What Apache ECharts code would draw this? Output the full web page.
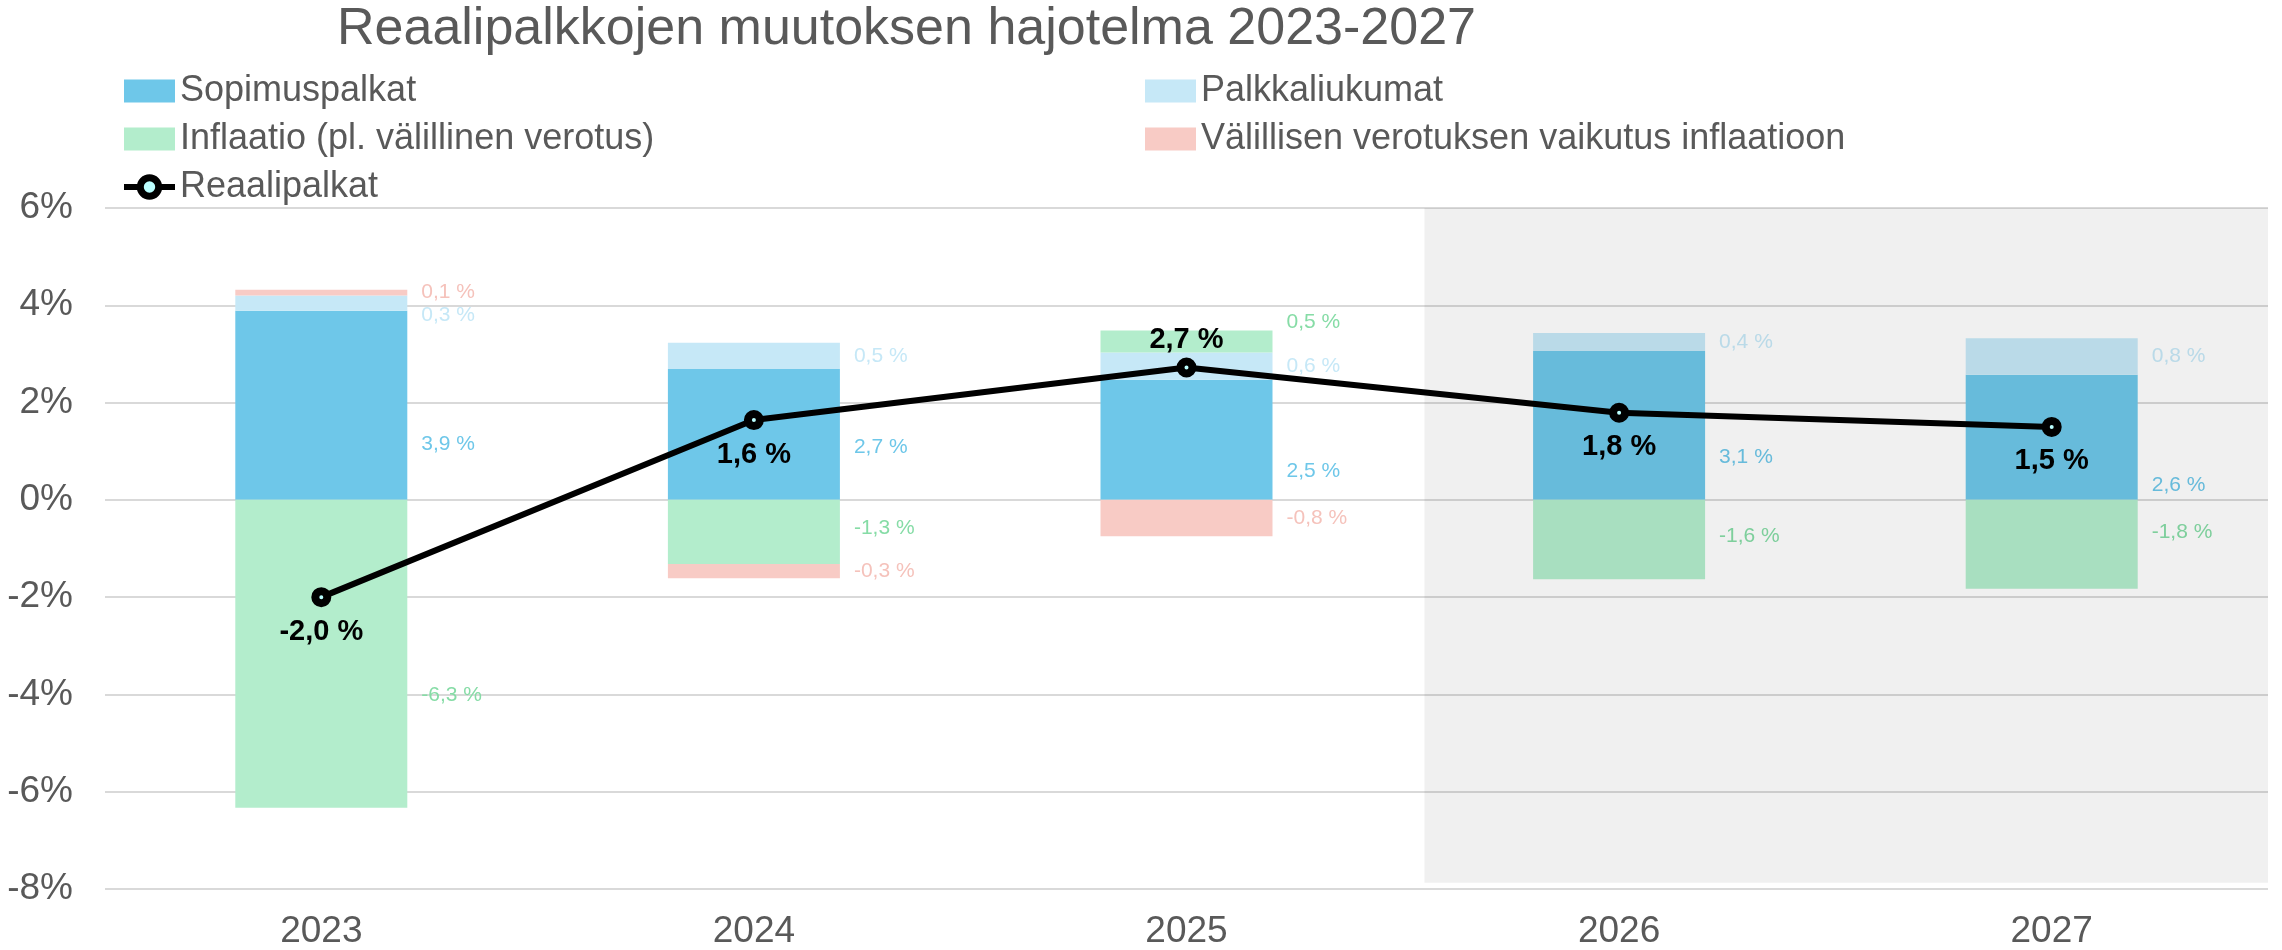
<!DOCTYPE html>
<html>
<head>
<meta charset="utf-8">
<title>Reaalipalkkojen muutoksen hajotelma 2023-2027</title>
<script src="https://cdn.jsdelivr.net/npm/echarts@6/dist/echarts.min.js"></script>
<style>
	html, body {margin: 0; padding: 0; background: #fff;}
	#report {width: 2282px; height: 950px;}
</style>
</head>
<body>
<div id="report"></div>
<script>
// data
var years = ['2023', '2024', '2025', '2026', '2027'];
var sopimuspalkat = [3.89, 2.69, 2.47, 3.06, 2.57];
var palkkaliukumat = [0.31, 0.54, 0.56, 0.37, 0.75];
var inflaatio = [-6.33, -1.32, 0.45, -1.63, -1.83];
var valillinenVerotus = [0.12, -0.29, -0.75, null, null];
var reaalipalkat = [-2.0, 1.64, 2.72, 1.79, 1.50];
var yTicks = [-8, -6, -4, -2, 0, 2, 4, 6];

// label nudges (px) so the numbers sit where the original had them
var sopimusNudge = [39, 13, 31, 32, 48];
var liukumaNudge = [12, 0, 0, 0, 0];
var inflaatioNudge = [41, -4, -19, -3, -12];
var realLabelPos = ['bottom', 'bottom', 'top', 'bottom', 'bottom'];

var FONT = '"Liberation Sans", Arial, sans-serif';

function fmt(v) {
	return v.toFixed(1).replace('.', ',') + ' %';
}

function barSeries(name, values, color, labelColor, nudge) {
	return {
		name: name,
		type: 'bar',
		stack: 'total',
		barWidth: 172,
		z: 2,
		itemStyle: {color: color},
		label: {
			show: true,
			position: 'right',
			distance: 14,
			color: labelColor,
			fontSize: 21,
			fontFamily: FONT,
			formatter: function(p) { return fmt(p.value); }
		},
		data: values.map(function(v, i) {
			if (v === null) return '-';
			return {value: v, label: {offset: [0, nudge ? nudge[i] : 0]}};
		})
	};
}

var legendText = {fontSize: 36, color: '#595959', fontFamily: FONT, padding: [0, 0, 0, 0]};

var myChart = echarts.init(document.getElementById('report'));

var option = {
	backgroundColor: '#fff',
	animation: false,
	title: {
		text: 'Reaalipalkkojen muutoksen hajotelma 2023-2027',
		left: 337,
		top: 4,
		padding: 0,
		textStyle: {fontSize: 52, fontWeight: 'normal', color: '#595959', fontFamily: FONT}
	},
	legend: [{
		left: 116,
		top: 68,
		orient: 'vertical',
		itemWidth: 51,
		itemHeight: 23,
		itemGap: 12,
		textStyle: legendText,
		data: [
			{name: 'Sopimuspalkat', icon: 'rect'},
			{name: 'Inflaatio (pl. välillinen verotus)', icon: 'rect'},
			{
				name: 'Reaalipalkat',
				itemStyle: {color: '#bff', borderColor: '#000', borderWidth: 7},
				lineStyle: {color: '#000', width: 6}
			}
		]
	}, {
		left: 1140,
		top: 68,
		orient: 'vertical',
		itemWidth: 51,
		itemHeight: 23,
		itemGap: 12,
		textStyle: legendText,
		data: [
			{name: 'Palkkaliukumat', icon: 'rect'},
			{name: 'Välillisen verotuksen vaikutus inflaatioon', icon: 'rect'}
		]
	}],
	grid: {left: 105, right: 14, top: 208, bottom: 61},
	xAxis: [{
		type: 'category',
		data: years,
		axisLine: {show: false},
		axisTick: {show: false},
		axisLabel: {fontSize: 37, color: '#595959', fontFamily: FONT, margin: 24}
	}, {
		type: 'value',
		min: -0.5,
		max: 4.5,
		show: false
	}],
	yAxis: {
		type: 'value',
		min: yTicks[0],
		max: yTicks[yTicks.length - 1],
		interval: 2,
		axisLine: {show: false},
		axisTick: {show: false},
		splitLine: {lineStyle: {color: '#d9d9d9', width: 2}},
		axisLabel: {
			fontSize: 37, color: '#595959', fontFamily: FONT, margin: 32,
			formatter: function(v) { return v + '%'; }
		}
	},
	series: [
		barSeries('Sopimuspalkat', sopimuspalkat, '#6ec7e9', '#6ec7e9', sopimusNudge),
		barSeries('Palkkaliukumat', palkkaliukumat, '#c6e8f7', '#c6e8f7', liukumaNudge),
		barSeries('Inflaatio (pl. välillinen verotus)', inflaatio, '#b3edcc', '#86dca6', inflaatioNudge),
		barSeries('Välillisen verotuksen vaikutus inflaatioon', valillinenVerotus, '#f8cbc5', '#f5c2bb', null),
		{
			// forecast years shading
			name: 'shade',
			type: 'line',
			xAxisIndex: 1,
			data: [],
			z: 3,
			markArea: {
				silent: true,
				z: 3,
				itemStyle: {color: 'rgba(0,0,0,0.06)'},
				data: [[{coord: [2.55, 6]}, {coord: [4.5, -7.87]}]]
			}
		},
		{
			name: 'Reaalipalkat',
			type: 'line',
			z: 5,
			symbol: 'circle',
			symbolSize: 12,
			lineStyle: {color: '#000', width: 6},
			itemStyle: {color: '#bff', borderColor: '#000', borderWidth: 8},
			label: {
				show: true,
				distance: 7,
				color: '#000',
				fontSize: 29,
				fontWeight: 'bold',
				fontFamily: FONT,
				formatter: function(p) { return fmt(p.value); }
			},
			data: reaalipalkat.map(function(v, i) {
				return {value: v, label: {position: realLabelPos[i], distance: realLabelPos[i] === 'top' ? 3 : 10}};
			})
		}
	]
};

myChart.setOption(option);
</script>
</body>
</html>
